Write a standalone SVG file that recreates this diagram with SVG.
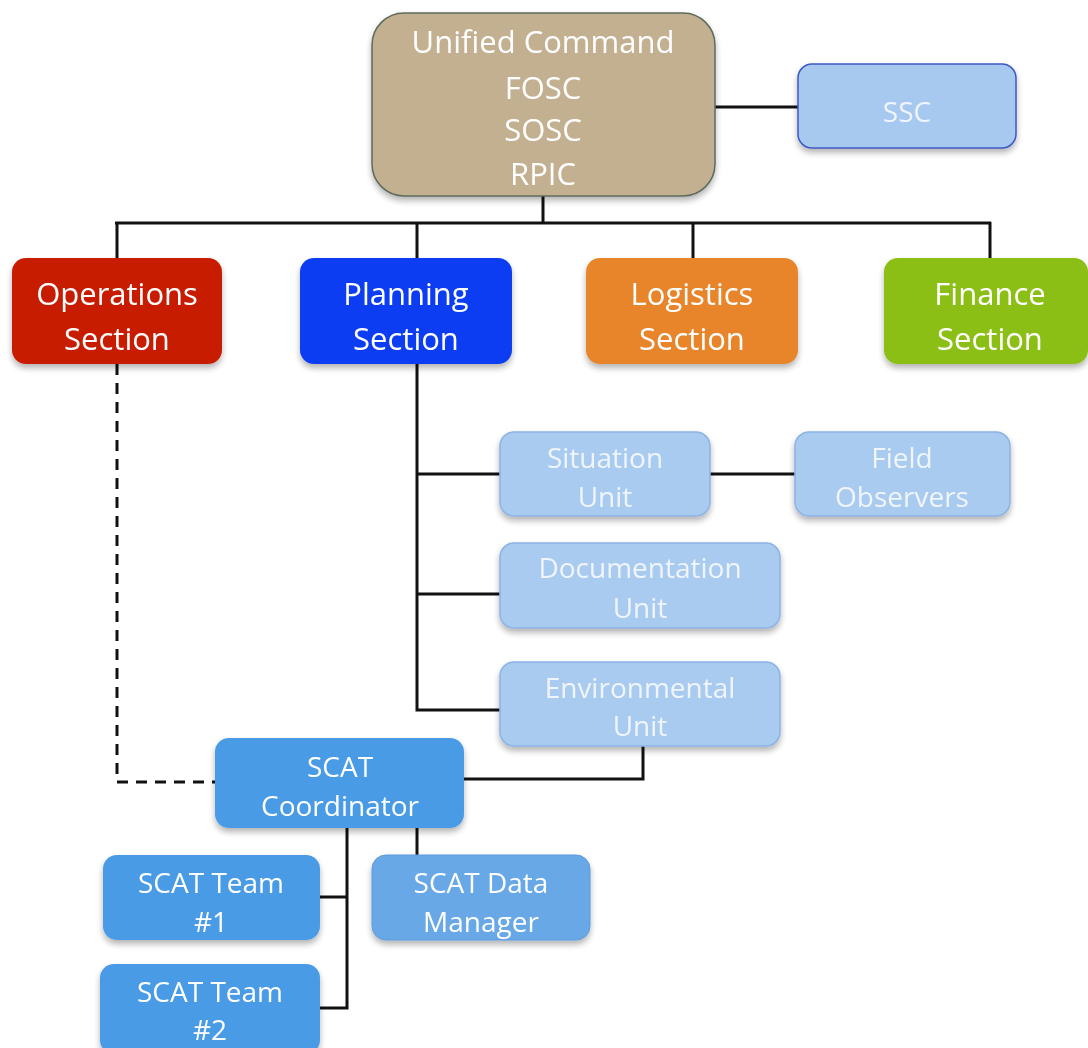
<svg xmlns="http://www.w3.org/2000/svg" width="1088" height="1048" viewBox="0 0 1088 1048">
<defs>
<filter id="sh" x="-10%" y="-10%" width="125%" height="135%">
<feGaussianBlur in="SourceAlpha" stdDeviation="3"/>
<feOffset dx="0" dy="4" result="b"/>
<feComponentTransfer><feFuncA type="linear" slope="0.3"/></feComponentTransfer>
<feMerge><feMergeNode/><feMergeNode in="SourceGraphic"/></feMerge>
</filter>
</defs>
<style>
text{font-family:"Open Sans","Noto Sans","Liberation Sans",sans-serif;text-anchor:middle;fill:#ffffff}
.big{font-size:31px}
.mid{font-size:28px}
.lt text{fill:#f0f5fc}
.conn{fill:none;stroke:#111;stroke-width:3}
.dash{fill:none;stroke:#111;stroke-width:3;stroke-dasharray:11 8}
</style>
<rect width="1088" height="1048" fill="#ffffff"/>
<g id="connectors">
<path class="conn" d="M715 107 H798"/>
<path class="conn" d="M543 196 V223 M115 223 H991 M117 222 V258 M417 222 V258 M693 222 V258 M990 222 V258"/>
<path class="conn" d="M417 364 V710 H500 M417 474 H500 M417 594 H500"/>
<path class="conn" d="M710 474 H795"/>
<path class="conn" d="M643 746 V779 H464"/>
<path class="dash" d="M117 364 V782 H215"/>
<path class="conn" d="M347 828 V1008 H320 M347 897 H320"/>
<path class="conn" d="M417 828 V855"/>
</g>
<g id="unified-command" filter="url(#sh)">
<rect x="372" y="13" width="343" height="183" rx="32" fill="#c3b091" stroke="#5f6a5c" stroke-width="1.5"/>
<text class="big" x="543" y="53" fill="#f7f1e3">Unified Command</text>
<text class="big" x="543" y="99" fill="#f7f1e3">FOSC</text>
<text class="big" x="543" y="141" fill="#f7f1e3">SOSC</text>
<text class="big" x="543" y="185" fill="#f7f1e3">RPIC</text>
</g>
<g id="ssc" class="lt" filter="url(#sh)">
<rect x="798" y="64" width="218" height="84" rx="14" fill="#a7c9f0" stroke="#3d58c4" stroke-width="1.5"/>
<text class="mid" x="907" y="122">SSC</text>
</g>
<g id="operations" filter="url(#sh)">
<rect x="12" y="258" width="210" height="106" rx="14" fill="#c81e06"/>
<text class="big" x="117" y="305">Operations</text>
<text class="big" x="117" y="350">Section</text>
</g>
<g id="planning" filter="url(#sh)">
<rect x="300" y="258" width="212" height="106" rx="14" fill="#0a3ef2"/>
<text class="big" x="406" y="305">Planning</text>
<text class="big" x="406" y="350">Section</text>
</g>
<g id="logistics" filter="url(#sh)">
<rect x="586" y="258" width="212" height="106" rx="14" fill="#e8852a"/>
<text class="big" x="692" y="305">Logistics</text>
<text class="big" x="692" y="350">Section</text>
</g>
<g id="finance" filter="url(#sh)">
<rect x="884" y="258" width="204" height="106" rx="14" fill="#8cbf12"/>
<text class="big" x="990" y="305">Finance</text>
<text class="big" x="990" y="350">Section</text>
</g>
<g id="situation-unit" class="lt" filter="url(#sh)">
<rect x="500" y="432" width="210" height="84" rx="14" fill="#a9cbef" stroke="#8db3e4" stroke-width="1.5"/>
<text class="mid" x="605" y="468">Situation</text>
<text class="mid" x="605" y="507">Unit</text>
</g>
<g id="field-observers" class="lt" filter="url(#sh)">
<rect x="795" y="432" width="215" height="84" rx="14" fill="#a9cbef" stroke="#8db3e4" stroke-width="1.5"/>
<text class="mid" x="902" y="468">Field</text>
<text class="mid" x="902" y="507">Observers</text>
</g>
<g id="documentation-unit" class="lt" filter="url(#sh)">
<rect x="500" y="543" width="280" height="85" rx="14" fill="#a9cbef" stroke="#8db3e4" stroke-width="1.5"/>
<text class="mid" x="640" y="578">Documentation</text>
<text class="mid" x="640" y="618">Unit</text>
</g>
<g id="environmental-unit" class="lt" filter="url(#sh)">
<rect x="500" y="662" width="280" height="84" rx="14" fill="#a9cbef" stroke="#8db3e4" stroke-width="1.5"/>
<text class="mid" x="640" y="698">Environmental</text>
<text class="mid" x="640" y="736">Unit</text>
</g>
<g id="scat-coordinator" filter="url(#sh)">
<rect x="215" y="738" width="249" height="90" rx="14" fill="#4a9be6"/>
<text class="mid" x="340" y="777">SCAT</text>
<text class="mid" x="340" y="816">Coordinator</text>
</g>
<g id="scat-team-1" filter="url(#sh)">
<rect x="103" y="855" width="217" height="85" rx="14" fill="#4a9be6"/>
<text class="mid" x="211" y="893">SCAT Team</text>
<text class="mid" x="211" y="932">#1</text>
</g>
<g id="scat-data-manager" filter="url(#sh)">
<rect x="372" y="855" width="218" height="85" rx="14" fill="#67a8e6" stroke="#5a9bdc" stroke-width="1"/>
<text class="mid" x="481" y="893">SCAT Data</text>
<text class="mid" x="481" y="932">Manager</text>
</g>
<g id="scat-team-2" filter="url(#sh)">
<rect x="100" y="964" width="220" height="90" rx="14" fill="#4a9be6"/>
<text class="mid" x="210" y="1002">SCAT Team</text>
<text class="mid" x="210" y="1040">#2</text>
</g>
</svg>
